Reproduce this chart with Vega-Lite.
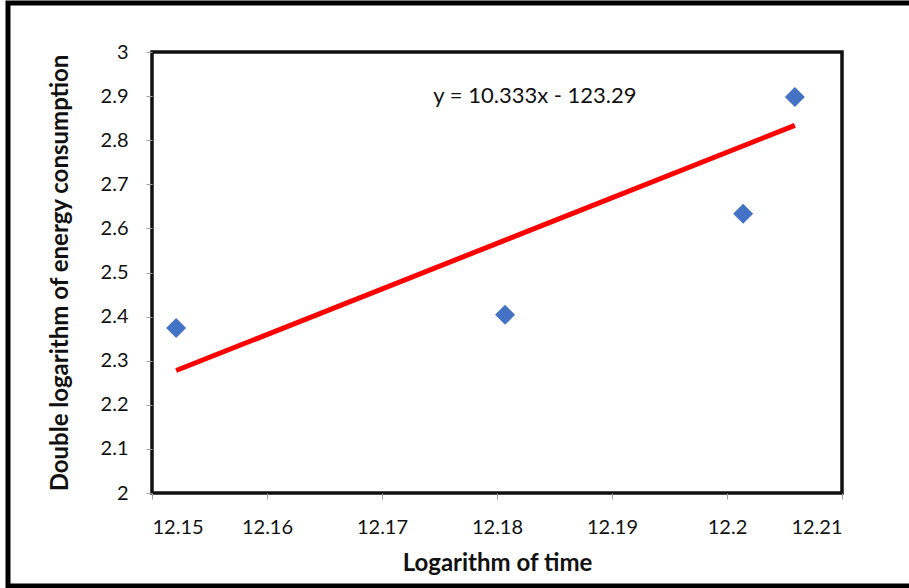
{
  "$schema": "https://vega.github.io/schema/vega-lite/v6.json",
  "width": 690,
  "height": 441,
  "autosize": {"type": "none"},
  "padding": {"left": 152, "top": 52, "right": 67, "bottom": 95},
  "background": "white",
  "config": {
    "font": "Lato",
    "view": {"stroke": "#111111", "strokeWidth": 3.5},
    "axis": {
      "domain": false,
      "gridColor": "#a0a0a0",
      "gridWidth": 1.2,
      "gridOpacity": 1,
      "tickColor": "#a0a0a0",
      "tickSize": 6,
      "labelFont": "Lato",
      "labelFontSize": 20,
      "labelColor": "#111111",
      "titleFont": "Lato",
      "titleFontSize": 24,
      "titleFontWeight": "bold",
      "titleColor": "#111111"
    }
  },
  "datasets": {
    "points": [
      {"time": 12.1521, "energy": 2.374},
      {"time": 12.1807, "energy": 2.404},
      {"time": 12.2014, "energy": 2.633},
      {"time": 12.2059, "energy": 2.898}
    ],
    "trend": [
      {"time": 12.1521, "energy": 2.2777},
      {"time": 12.2059, "energy": 2.8336}
    ],
    "label": [
      {"time": 12.1833, "energy": 2.9, "text": "y = 10.333x - 123.29"}
    ]
  },
  "layer": [
    {
      "data": {"values": [{}]},
      "mark": {"type": "rect", "fill": "white", "stroke": null},
      "encoding": {
        "x": {"datum": 12.1737, "type": "quantitative"},
        "x2": {"datum": 12.1929},
        "y": {"datum": 2.8617, "type": "quantitative"},
        "y2": {"datum": 2.9456}
      }
    },
    {
      "data": {"name": "trend"},
      "mark": {"type": "line", "color": "#ff0000", "strokeWidth": 5},
      "encoding": {
        "x": {"field": "time", "type": "quantitative"},
        "y": {"field": "energy", "type": "quantitative"}
      }
    },
    {
      "data": {"name": "points"},
      "mark": {"type": "point", "shape": "diamond", "filled": true, "color": "#4472c4", "size": 400, "opacity": 1},
      "encoding": {
        "x": {
          "field": "time",
          "type": "quantitative",
          "scale": {"domain": [12.15, 12.21], "nice": false, "zero": false},
          "axis": {
            "title": "Logarithm of time",
            "values": [12.15, 12.16, 12.17, 12.18, 12.19, 12.2, 12.21],
            "format": ".2~f",
            "labelPadding": 18,
            "titlePadding": 14
          }
        },
        "y": {
          "field": "energy",
          "type": "quantitative",
          "scale": {"domain": [2, 3], "nice": false, "zero": false},
          "axis": {
            "title": "Double logarithm of energy consumption",
            "values": [2, 2.1, 2.2, 2.3, 2.4, 2.5, 2.6, 2.7, 2.8, 2.9, 3],
            "format": ".1~f",
            "labelPadding": 18,
            "titlePadding": 28
          }
        }
      }
    },
    {
      "data": {"name": "label"},
      "mark": {"type": "text", "font": "Lato", "fontSize": 22, "color": "#111111", "align": "center", "baseline": "middle"},
      "encoding": {
        "x": {"field": "time", "type": "quantitative"},
        "y": {"field": "energy", "type": "quantitative"},
        "text": {"field": "text"}
      }
    },
    {
      "data": {"values": [{}]},
      "mark": {"type": "rect", "fill": "transparent", "stroke": "#000000", "strokeWidth": 5},
      "encoding": {
        "x": {"datum": 12.137478, "type": "quantitative"},
        "x2": {"datum": 12.216348},
        "y": {"datum": 3.1111, "type": "quantitative"},
        "y2": {"datum": 1.78912}
      }
    }
  ]
}
